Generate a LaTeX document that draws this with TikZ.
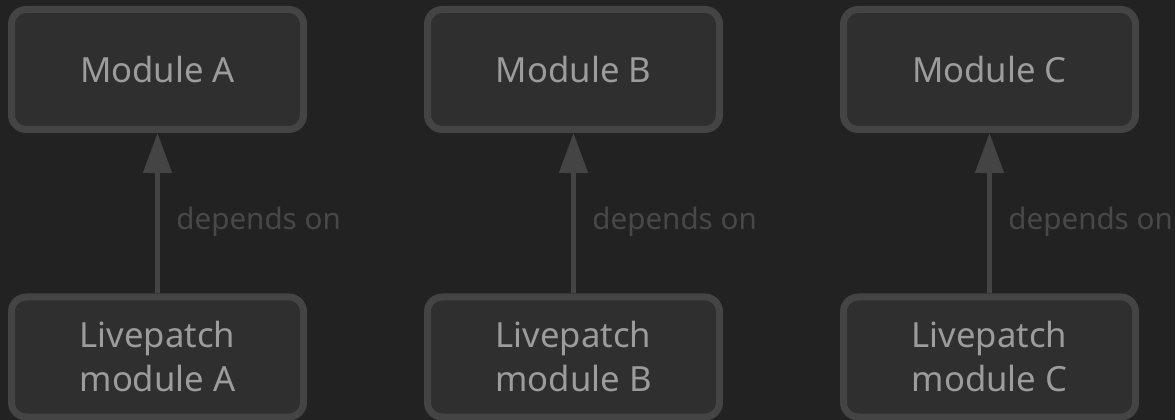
\documentclass[tikz,border=0pt]{standalone}
\usepackage{fontspec}
\setmainfont{Noto Sans}
\usetikzlibrary{arrows.meta}
\definecolor{bgcol}{HTML}{222222}
\definecolor{boxcol}{HTML}{2F2F2F}
\definecolor{edgecol}{HTML}{444444}
\definecolor{txtcol}{HTML}{9C9C9C}
\definecolor{depcol}{HTML}{484848}
\begin{document}
\begin{tikzpicture}[x=0.75pt,y=-0.75pt,
  box/.style={draw=edgecol, fill=boxcol, line width=5.25pt, rounded corners=11pt,
    minimum width=219pt, minimum height=90pt, text=txtcol, align=center,
    font=\fontsize{26}{33}\selectfont},
  link/.style={draw=edgecol, line width=3.75pt, -{Triangle[width=21pt,length=30pt]}},
  dep/.style={midway, anchor=west, xshift=9pt, yshift=-6.75pt, text=depcol,
    font=\fontsize{22.2}{26}\selectfont}]
\useasboundingbox [fill=bgcol] (0,0) rectangle (1175,420);

% top row
\node [box] (modA) at (157.5,69.5) {Module A};
\node [box] (modB) at (573.5,69.5) {Module B};
\node [box] (modC) at (989.5,69.5) {Module C};

% bottom row
\node [box] (lpA) at (157.5,357) {Livepatch\\module A};
\node [box] (lpB) at (573.5,357) {Livepatch\\module B};
\node [box] (lpC) at (989.5,357) {Livepatch\\module C};

\draw [link] (lpA) -- (modA) node [dep] {depends on};
\draw [link] (lpB) -- (modB) node [dep] {depends on};
\draw [link] (lpC) -- (modC) node [dep] {depends on};
\end{tikzpicture}
\end{document}
